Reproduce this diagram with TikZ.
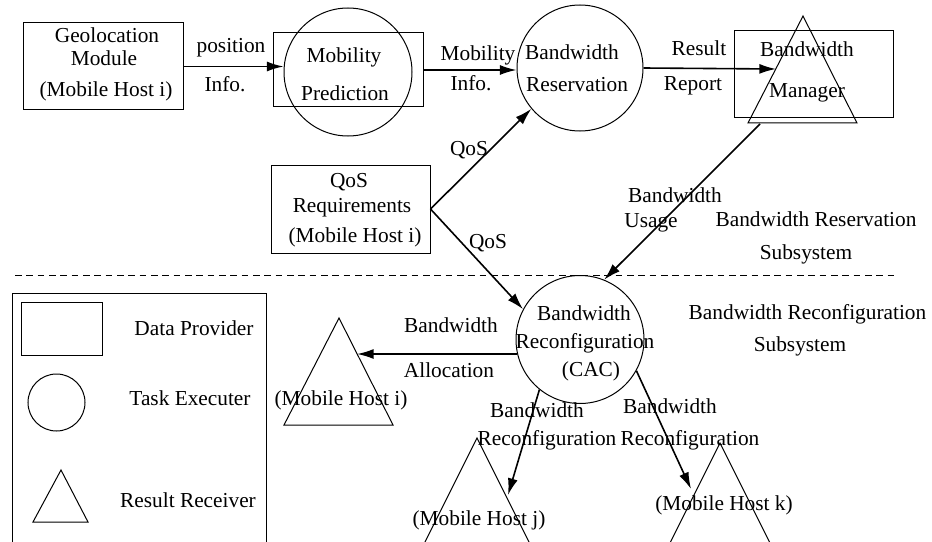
\documentclass[tikz,border=0pt]{standalone}
\usepackage{fontspec}
\setmainfont{Liberation Serif}
\usetikzlibrary{arrows.meta}
\begin{document}
\begin{tikzpicture}[x=0.75pt,y=-0.75pt,
  shp/.style={draw,line width=0.75pt,inner sep=0pt},
  boxn/.style={shp,rectangle},
  circn/.style={shp,circle},
  arr/.style={line width=1.2pt,-{Latex[length=12.5pt,width=7.5pt]}},
  txt/.style={anchor=base,inner sep=0pt,font=\fontsize{16}{19}\selectfont}]
\useasboundingbox (0,0) rectangle (932,542);
\clip (0,0) rectangle (932,542);
\fill[white] (0,0) rectangle (932,542);

% shapes
\node[boxn,minimum width=120pt,minimum height=65.25pt] (geo) at (103,66.5) {};
\node[boxn,minimum width=112.5pt,minimum height=55.5pt] (mpbox) at (348,70) {};
\node[circn,minimum size=96pt] (mpc) at (348,72) {};
\node[circn,minimum size=94.5pt] (brc) at (580,68) {};
\node[boxn,minimum width=119.25pt,minimum height=65.25pt] (bmbox) at (813.5,74.5) {};
\coordinate (bmA) at (803,16);
\coordinate (bmL) at (748,123);
\coordinate (bmR) at (857,123);
\draw[line width=0.75pt] (bmA) -- (bmL) -- (bmR) -- cycle;
\node[boxn,minimum width=119.25pt,minimum height=66pt] (qos) at (350.5,209) {};
\node[circn,minimum size=96pt] (rcc) at (580,339.5) {};
\coordinate (tiA) at (339,318);
\coordinate (tiL) at (284,425);
\coordinate (tiR) at (393,425);
\draw[line width=0.75pt] (tiA) -- (tiL) -- (tiR) -- cycle;
\coordinate (tjA) at (477,438);
\coordinate (tjL) at (422,548);
\coordinate (tjR) at (532,548);
\draw[line width=0.75pt] (tjA) -- (tjL) -- (tjR) -- cycle;
\coordinate (tkA) at (720,443);
\coordinate (tkL) at (665,553);
\coordinate (tkR) at (775,553);
\draw[line width=0.75pt] (tkA) -- (tkL) -- (tkR) -- cycle;

% legend
\coordinate (lgTL) at (12,293);
\coordinate (lgBR) at (266,560);
\draw[line width=0.75pt] (lgTL) rectangle (lgBR);
\node[boxn,minimum width=60.75pt,minimum height=39.75pt] (lgbox) at (61.5,328.5) {};
\node[circn,minimum size=42.75pt] (lgcirc) at (56.5,402.5) {};
\coordinate (lgA) at (61,470);
\coordinate (lgL) at (33,522);
\coordinate (lgR) at (88,522);
\draw[line width=0.75pt] (lgA) -- (lgL) -- (lgR) -- cycle;

% dashed separator
\coordinate (dashL) at (15,275);
\coordinate (dashR) at (895,275);
\draw[line width=0.6pt,dash pattern=on 5pt off 3.5pt] (dashL) -- (dashR);

% connector end points on triangles
\coordinate (bmIn) at (776,69);
\coordinate (bmOut) at (760,124);
\coordinate (tiIn) at (357,354);
\coordinate (tjIn) at (508,495);
\coordinate (tkIn) at (691,489);

% connectors
\draw[arr] (geo.east) -- (geo.east -| mpc.west);
\draw[arr] (mpbox.east) -- (mpbox.east -| brc.west);
\draw[arr] (brc.east) -- (bmIn);
\draw[arr] (bmOut) -- (rcc.68);
\draw[arr] (qos.east) -- (brc.220);
\draw[arr] (qos.east) -- (rcc.152);
\draw[arr] (rcc.193) -- (tiIn);
\draw[arr] (rcc.231) -- (tjIn);
\draw[arr] (rcc.331) -- (tkIn);

% texts
\node[txt] (t1) at (107,43) {Geolocation};
\node[txt] (t2) at (104,65) {Module};
\node[txt] (t3) at (106,97) {(Mobile Host i)};
\node[txt] (t4) at (231,53) {position};
\node[txt] (t5) at (225,92) {Info.};
\node[txt] (t6) at (344,63) {Mobility};
\node[txt] (t7) at (345,100) {Prediction};
\node[txt] (t8) at (478,61) {Mobility};
\node[txt] (t9) at (471,91) {Info.};
\node[txt] (t10) at (572,60) {Bandwidth};
\node[txt] (t11) at (577,92) {Reservation};
\node[txt] (t12) at (699,56) {Result};
\node[txt] (t13) at (693,91) {Report};
\node[txt] (t14) at (807,57) {Bandwidth};
\node[txt] (t15) at (807,98) {Manager};
\node[txt] (t16) at (469,155) {QoS};
\node[txt] (t17) at (349,187) {QoS};
\node[txt] (t18) at (352,212) {Requirements};
\node[txt] (t19) at (355,242) {(Mobile Host i)};
\node[txt] (t20) at (488,248) {QoS};
\node[txt] (t21) at (675,202) {Bandwidth};
\node[txt] (t22) at (651,227) {Usage};
\node[txt] (t23) at (816,226) {Bandwidth Reservation};
\node[txt] (t24) at (806,259) {Subsystem};
\node[txt] (t25) at (584,320) {Bandwidth};
\node[txt] (t26) at (585,348) {Reconfiguration};
\node[txt] (t27) at (591,376) {(CAC)};
\node[txt] (t28) at (807.5,319) {Bandwidth Reconfiguration};
\node[txt] (t29) at (800,351) {Subsystem};
\node[txt] (t30) at (451,332) {Bandwidth};
\node[txt] (t31) at (449,377) {Allocation};
\node[txt] (t32) at (341,405) {(Mobile Host i)};
\node[txt] (t33) at (537,417) {Bandwidth};
\node[txt] (t34) at (547,445) {Reconfiguration};
\node[txt] (t35) at (670,413) {Bandwidth};
\node[txt] (t36) at (690,445) {Reconfiguration};
\node[txt] (t37) at (479,525) {(Mobile Host j)};
\node[txt] (t38) at (724,510) {(Mobile Host k)};
\node[txt] (t39) at (194,335) {Data Provider};
\node[txt] (t40) at (190,405) {Task Executer};
\node[txt] (t41) at (188,507) {Result Receiver};
\end{tikzpicture}
\end{document}
